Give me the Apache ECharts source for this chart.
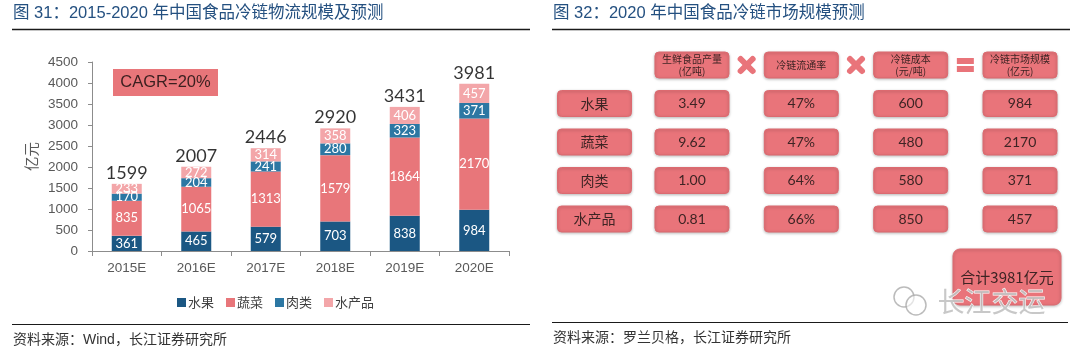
<!DOCTYPE html>
<html>
<head>
<meta charset="utf-8">
<script src="https://cdn.jsdelivr.net/npm/echarts@6/dist/echarts.min.js"></script>
<style>
  html, body { margin: 0; padding: 0; background: #fff; }
  #main { width: 1080px; height: 351px; }
</style>
</head>
<body>
<div id="main"></div>
<script>
  // 图31 数据
  var years = ['2015E', '2016E', '2017E', '2018E', '2019E', '2020E'];
  var fruit = [361, 465, 579, 703, 838, 984];
  var vegetable = [835, 1065, 1313, 1579, 1864, 2170];
  var meat = [170, 204, 241, 280, 323, 371];
  var aquatic = [233, 272, 314, 358, 406, 457];
  var totals = [1599, 2007, 2446, 2920, 3431, 3981];
  var seriesNames = ['水果', '蔬菜', '肉类', '水产品'];

  // 图32 数据
  var rowNames = ['水果', '蔬菜', '肉类', '水产品'];
  var headers = ['生鲜食品产量\n(亿吨)', '冷链流通率', '冷链成本\n(元/吨)', '冷链市场规模\n(亿元)'];
  var freshOutput = ['3.49', '9.62', '1.00', '0.81'];
  var coldRate = ['47%', '47%', '64%', '66%'];
  var coldCost = ['600', '480', '580', '850'];
  var marketSize = ['984', '2170', '371', '457'];
  var operators = ['x', 'x', '='];
  var marketTotal = 3981;

  var CJK = '"Noto Sans CJK SC", sans-serif';
  var LAT = '"Liberation Sans", "Noto Sans CJK SC", sans-serif';
  var NUM = 'Lato, "Liberation Sans", sans-serif';
  var PINK = '#e9747a';
  var colors = ['#1b5783', '#e8767a', '#2c77a3', '#f3a6a9'];

  var chart = echarts.init(document.getElementById('main'));

  function barSeries(name, data, idx) {
    return {
      name: name,
      type: 'bar',
      stack: 'total',
      barWidth: 30,
      xAxisIndex: 0,
      yAxisIndex: 0,
      itemStyle: { color: colors[idx] },
      label: {
        show: true,
        position: 'inside',
        color: '#fff',
        fontSize: 13,
        fontFamily: NUM
      },
      data: data
    };
  }

  // 表格单元格
  var nameCells = rowNames.map(function (n, i) { return { col: 0, row: i + 1, text: n }; });
  var valueCells = [];
  headers.forEach(function (h, c) { valueCells.push({ col: c, row: 0, text: h, head: true }); });
  [freshOutput, coldRate, coldCost, marketSize].forEach(function (arr, c) {
    arr.forEach(function (v, r) { valueCells.push({ col: c, row: r + 1, text: v }); });
  });

  function cellRender(cells, isName) {
    return function (params, api) {
      var cell = cells[params.dataIndex];
      var p = api.coord([api.value(0), api.value(1)]);
      var font = cell.head ? '10px ' + CJK : (isName ? '14px ' + CJK : '14px ' + NUM);
      return {
        type: 'rect',
        shape: { x: p[0] - 37, y: p[1] - 13, width: 74, height: 26, r: 4 },
        style: {
          fill: PINK,
          stroke: '#dc6a70',
          lineWidth: 1,
          shadowBlur: 3,
          shadowOffsetY: 1,
          shadowColor: 'rgba(0,0,0,0.25)'
        },
        textContent: {
          style: { text: cell.text, fill: '#3e2424', font: font, align: 'center', lineHeight: 12 }
        },
        textConfig: { position: 'inside' }
      };
    };
  }

  function opRender(params, api) {
    var i = api.value(0);
    var a = api.coord([i, 0]);
    var b = api.coord([i + 1, 0]);
    var x = (a[0] + b[0]) / 2, y = a[1];
    if (operators[params.dataIndex] === '=') {
      return {
        type: 'group',
        children: [
          { type: 'rect', shape: { x: x - 8.5, y: y - 7, width: 17, height: 6 }, style: { fill: PINK } },
          { type: 'rect', shape: { x: x - 8.5, y: y + 1, width: 17, height: 6 }, style: { fill: PINK } }
        ]
      };
    }
    return {
      type: 'group',
      children: [
        { type: 'line', shape: { x1: x - 6, y1: y - 6, x2: x + 6, y2: y + 6 }, style: { stroke: PINK, lineWidth: 6, lineCap: 'round' } },
        { type: 'line', shape: { x1: x - 6, y1: y + 6, x2: x + 6, y2: y - 6 }, style: { stroke: PINK, lineWidth: 6, lineCap: 'round' } }
      ]
    };
  }

  var rowKeys = ['head'].concat(rowNames);

  chart.setOption({
    animation: false,
    textStyle: { fontFamily: LAT },
    grid: [
      { left: 92, top: 62, width: 417, height: 189 },
      { left: 557, top: 45.75, width: 75, height: 192.5 },
      { left: 637.3, top: 45.75, width: 437.4, height: 192.5 }
    ],
    legend: {
      data: seriesNames,
      left: 172,
      top: 291,
      icon: 'rect',
      itemWidth: 9,
      itemHeight: 9,
      itemGap: 12,
      textStyle: { fontSize: 13, color: '#404040', fontFamily: CJK, padding: [0, 0, 0, -3] }
    },
    xAxis: [
      {
        gridIndex: 0,
        type: 'category',
        data: years,
        axisLine: { lineStyle: { color: '#8c8c8c' } },
        axisTick: { show: true, length: 5, lineStyle: { color: '#8c8c8c' } },
        axisLabel: { fontSize: 13.5, color: '#595959', margin: 11, fontFamily: LAT }
      },
      { gridIndex: 1, type: 'category', data: [''], show: false },
      { gridIndex: 2, type: 'category', data: headers, show: false }
    ],
    yAxis: [
      {
        gridIndex: 0,
        type: 'value',
        min: 0,
        max: 4500,
        interval: 500,
        name: '亿元',
        nameLocation: 'middle',
        nameRotate: 90,
        nameGap: 53,
        nameTextStyle: { fontSize: 14.5, color: '#595959', fontFamily: CJK },
        axisLine: { show: true, lineStyle: { color: '#8c8c8c' } },
        axisTick: { show: true, length: 4, lineStyle: { color: '#8c8c8c' } },
        splitLine: { show: false },
        axisLabel: {
          fontSize: 13.5, color: '#595959', margin: 14, fontFamily: LAT,
          formatter: function (v) { return String(v); }
        }
      },
      { gridIndex: 1, type: 'category', data: rowKeys, inverse: true, show: false },
      { gridIndex: 2, type: 'category', data: rowKeys, inverse: true, show: false }
    ],
    series: [
      barSeries('水果', fruit, 0),
      barSeries('蔬菜', vegetable, 1),
      barSeries('肉类', meat, 2),
      barSeries('水产品', aquatic, 3),
      {
        name: '合计',
        type: 'scatter',
        xAxisIndex: 0,
        yAxisIndex: 0,
        data: totals,
        symbolSize: 0,
        itemStyle: { color: '#000' },
        label: { show: true, position: 'top', distance: 2, fontSize: 18, color: '#000', fontFamily: NUM },
        silent: true
      },
      {
        type: 'custom',
        xAxisIndex: 1,
        yAxisIndex: 1,
        renderItem: cellRender(nameCells, true),
        data: nameCells.map(function (c) { return [c.col, c.row]; }),
        silent: true
      },
      {
        type: 'custom',
        xAxisIndex: 2,
        yAxisIndex: 2,
        renderItem: cellRender(valueCells, false),
        data: valueCells.map(function (c) { return [c.col, c.row]; }),
        silent: true
      },
      {
        type: 'custom',
        xAxisIndex: 2,
        yAxisIndex: 2,
        renderItem: opRender,
        data: operators.map(function (o, i) { return [i, 0]; }),
        silent: true
      }
    ],
    graphic: [
      // 标题
      { type: 'text', left: 13, top: 5, style: { text: '图 31：2015-2020 年中国食品冷链物流规模及预测', fill: '#245080', font: '16.5px ' + LAT } },
      { type: 'text', left: 553, top: 5, style: { text: '图 32：2020 年中国食品冷链市场规模预测', fill: '#245080', font: '16.5px ' + LAT } },
      { type: 'line', shape: { x1: 12, y1: 29.5, x2: 530, y2: 29.5 }, style: { stroke: '#1a1a1a', lineWidth: 1.5 } },
      { type: 'line', shape: { x1: 552, y1: 29.5, x2: 1070, y2: 29.5 }, style: { stroke: '#1a1a1a', lineWidth: 1.5 } },
      // 底部
      { type: 'line', shape: { x1: 12, y1: 324.5, x2: 530, y2: 324.5 }, style: { stroke: '#1a1a1a', lineWidth: 1.2 } },
      { type: 'line', shape: { x1: 552, y1: 322.5, x2: 1068, y2: 322.5 }, style: { stroke: '#1a1a1a', lineWidth: 1.2 } },
      { type: 'text', left: 13, top: 333, style: { text: '资料来源：Wind，长江证券研究所', fill: '#333', font: '14px ' + LAT } },
      { type: 'text', left: 553, top: 331, style: { text: '资料来源：罗兰贝格，长江证券研究所', fill: '#333', font: '14px ' + LAT } },
      // CAGR
      {
        type: 'rect',
        shape: { x: 113, y: 69, width: 105, height: 27 },
        style: { fill: '#e8767a' },
        textContent: { style: { text: 'CAGR=20%', fill: '#3a1f1f', font: '16.5px ' + LAT } },
        textConfig: { position: 'inside' }
      },
      // 合计
      {
        type: 'rect',
        shape: { x: 953, y: 249, width: 108, height: 56, r: 7 },
        style: { fill: PINK, stroke: '#dc6a70', shadowBlur: 3, shadowOffsetY: 1, shadowColor: 'rgba(0,0,0,0.25)' },
        textContent: { style: { text: '合计' + marketTotal + '亿元', fill: '#3e2424', font: '15px ' + CJK } },
        textConfig: { position: 'inside' }
      },
      // 水印
      { type: 'circle', shape: { cx: 904, cy: 297, r: 10 }, style: { fill: 'none', stroke: 'rgba(170,170,170,0.8)', lineWidth: 1.5 } },
      { type: 'circle', shape: { cx: 916, cy: 305, r: 10 }, style: { fill: 'rgba(255,255,255,0.6)', stroke: 'rgba(170,170,170,0.8)', lineWidth: 1.5 } },
      { type: 'text', left: 937, top: 288, style: { text: '长江交运', fill: 'rgba(190,190,190,0.85)', stroke: '#fff', lineWidth: 1, font: '27px ' + CJK } }
    ]
  });
</script>
</body>
</html>
